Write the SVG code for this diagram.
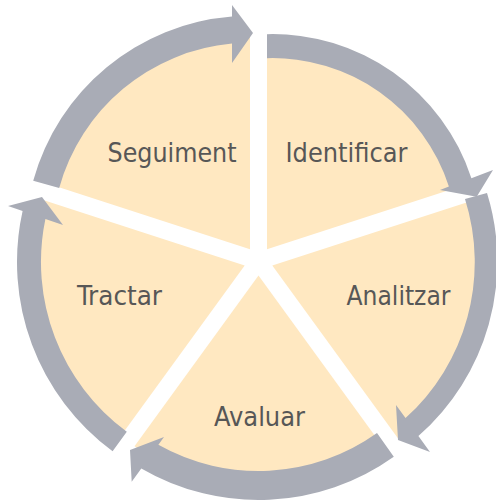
<svg xmlns="http://www.w3.org/2000/svg" width="496" height="503" viewBox="0 0 496 503">
<style>
.slice{fill:#FFE8C1;stroke:none}
.arrow{fill:#A9ACB6;stroke:none}
.lbl{font-family:"DejaVu Sans Condensed","DejaVu Sans",sans-serif;font-stretch:condensed;font-size:27px;fill:#575757;text-anchor:middle}
</style>
<rect width="496" height="503" fill="#FFFFFF"/>
<g id="node-identificar">
<path class="slice" d="M267,249.3 L267,45.3 A204,204 0 0 1 461,186.3 Z"/>
<text class="lbl" x="346.5" y="162" textLength="122" lengthAdjust="spacingAndGlyphs">Identificar</text>
</g>
<g id="node-analitzar">
<path class="slice" d="M272.3,265.5 L475.8,199.4 A214,214 0 0 1 398.1,438.6 Z"/>
<text class="lbl" x="398.5" y="305" textLength="104" lengthAdjust="spacingAndGlyphs">Analitzar</text>
</g>
<g id="node-avaluar">
<path class="slice" d="M258.5,275.5 L382.5,446.2 A211,211 0 0 1 134.5,446.2 Z"/>
<text class="lbl" x="259.5" y="426" textLength="91" lengthAdjust="spacingAndGlyphs">Avaluar</text>
</g>
<g id="node-tractar">
<path class="slice" d="M244.7,265.5 L117.7,440.2 A216,216 0 0 1 39.3,198.8 Z"/>
<text class="lbl" x="119.5" y="305" textLength="85" lengthAdjust="spacingAndGlyphs">Tractar</text>
</g>
<g id="node-seguiment">
<path class="slice" d="M250,249.3 L43.6,182.2 A217,217 0 0 1 250,32.3 Z"/>
<text class="lbl" x="172" y="162" textLength="129" lengthAdjust="spacingAndGlyphs">Seguiment</text>
</g>
<g id="connectors">
<path class="arrow" d="M33.2,180.7 A225,225 0 0 1 232,16.5 L232,5 L253,33 L232,63 L232,43.6 A198,198 0 0 0 59.2,187.9 Z"/>
<path class="arrow" d="M267,34.2 A209,209 0 0 1 471.4,178.2 L493,170 L476.7,196.7 L440,190 L448.9,186.6 A185,185 0 0 0 267,58.2 Z"/>
<path class="arrow" d="M487,193 A232,232 0 0 1 418.4,436 L430,452 L398,440 L396,405 L405.5,418.1 A210,210 0 0 0 465,199 Z"/>
<path class="arrow" d="M393.8,456.7 A233,233 0 0 1 141.3,468.4 L131.7,481.7 L130,450 L164,437 L158.4,444.8 A204,204 0 0 0 377,433.1 Z"/>
<path class="arrow" d="M112.6,451.2 A235,235 0 0 1 22.6,211 L8,206 L42,197 L63,225 L45.4,218.9 A211,211 0 0 0 126.8,431.8 Z"/>
</g>
</svg>
